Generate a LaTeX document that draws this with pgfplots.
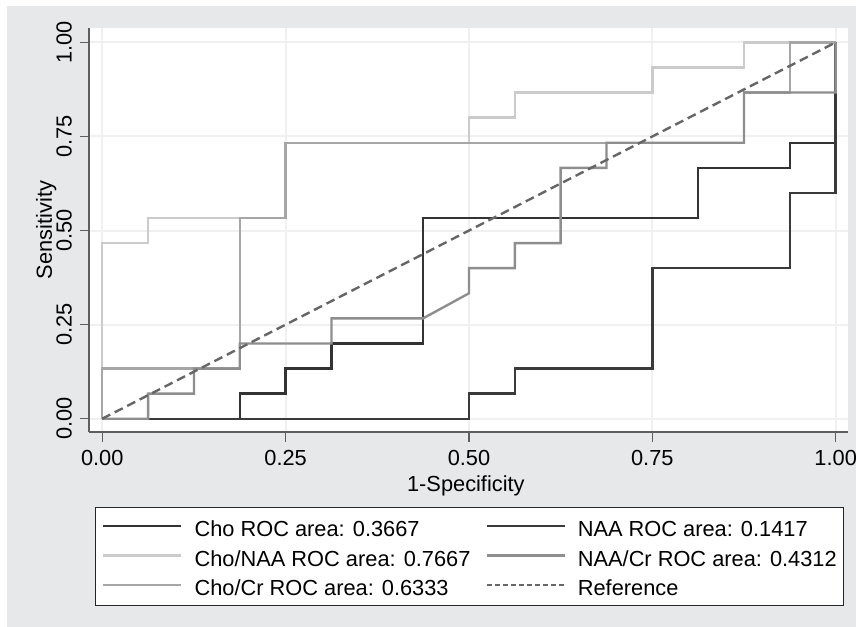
\documentclass[border=0pt]{standalone}
\usepackage{pgfplots}
\pgfplotsset{compat=1.18}
\usepackage{fontspec}
\setmainfont{Liberation Sans}
\definecolor{bggray}{HTML}{E7E8E9}
\definecolor{cCho}{HTML}{333333}
\definecolor{cNAA}{HTML}{3A3A3A}
\definecolor{cChoNAA}{HTML}{CBCBCB}
\definecolor{cNAACr}{HTML}{8E8E8E}
\definecolor{cChoCr}{HTML}{A6A6A6}
\definecolor{cRef}{HTML}{666666}
\definecolor{axgray}{HTML}{5E5E5E}
\definecolor{gridgray}{HTML}{F0F0F0}
\begin{document}
\fontsize{10.9bp}{13bp}\selectfont
\begin{tikzpicture}
\useasboundingbox (0,0) rectangle (428bp,-313.5bp);
\fill[bggray] (3.6bp,-3bp) rectangle (428bp,-313.5bp);
\begin{axis}[
  at={(44.5bp,-216bp)}, anchor=south west,
  scale only axis, width=379.5bp, height=202bp,
  xmin=-0.0181, xmax=1.0168, ymin=-0.0353, ymax=1.0382,
  axis x line*=bottom, axis y line*=left,
  axis line style={axgray, line width=0.6bp, -},
  axis background/.style={fill=white},
  xtick={0,0.25,0.5,0.75,1}, ytick={0,0.25,0.5,0.75,1},
  xticklabels={0.00,0.25,0.50,0.75,1.00},
  yticklabels={0.00,0.25,0.50,0.75,1.00},
  tick align=outside, major tick length=4.75bp,
  tick style={axgray, line width=0.6bp},
  grid=major, major grid style={gridgray, line width=1bp},
  ticklabel style={font=\fontsize{10.9bp}{13bp}\selectfont, inner sep=0pt},
  xticklabel style={anchor=base},
  yticklabel style={rotate=90, anchor=base},
  xticklabel shift=12bp,
  yticklabel shift=4bp,
  xlabel={1-Specificity}, ylabel={Sensitivity},
  label style={font=\fontsize{10.9bp}{13bp}\selectfont, inner sep=0pt},
  xlabel style={at={(axis description cs:0.4965,-0.1473)}, anchor=base},
  ylabel style={at={(axis description cs:-0.04875,0.5)}, anchor=base},
  legend columns=2,
  legend cell align=left,
  legend image code/.code={\draw[#1] (0bp,0.5bp) -- (39bp,0.5bp);},
  legend style={
    at={(0.0075,-0.1856)}, anchor=north west,
    draw=black!85, line width=0.5bp, fill=white,
    font=\fontsize{10.9bp}{13bp}\selectfont,
    inner xsep=3.5bp, inner ysep=2.35bp,
    row sep=0bp,
    nodes={inner xsep=0pt, inner ysep=0pt, text height=12.3bp, text depth=2.5bp},
    /tikz/every odd column/.append style={column sep=6bp},
    /tikz/every even column/.append style={column sep=7.5bp},
  },
  every axis plot/.append style={line width=1.2bp, line join=miter},
]
% draw order: dark curves first, then light, then medium, then reference
\addplot[cCho, forget plot] coordinates {
 (0,0) (0.1875,0) (0.1875,0.0667) (0.25,0.0667) (0.25,0.1333) (0.3125,0.1333)
 (0.3125,0.2) (0.4375,0.2) (0.4375,0.5333) (0.8125,0.5333) (0.8125,0.6667)
 (0.9375,0.6667) (0.9375,0.7333) (1,0.7333) (1,1)};
\addplot[cNAA, forget plot] coordinates {
 (0,0) (0.5,0) (0.5,0.0667) (0.5625,0.0667) (0.5625,0.1333) (0.75,0.1333)
 (0.75,0.4) (0.9375,0.4) (0.9375,0.6) (1,0.6) (1,1)};
\addplot[cChoNAA, forget plot] coordinates {
 (0,0) (0,0.4667) (0.0625,0.4667) (0.0625,0.5333) (0.25,0.5333) (0.25,0.7333)
 (0.5,0.7333) (0.5,0.8) (0.5625,0.8) (0.5625,0.8667) (0.75,0.8667) (0.75,0.9333)
 (0.875,0.9333) (0.875,1) (1,1)};
\addplot[cChoCr, forget plot] coordinates {
 (0,0) (0,0.1333) (0.1875,0.1333) (0.1875,0.5333) (0.25,0.5333) (0.25,0.7333)
 (0.875,0.7333) (0.875,0.8667) (0.9375,0.8667) (0.9375,1) (1,1)};
\addplot[cNAACr, forget plot] coordinates {
 (0,0) (0.0625,0) (0.0625,0.0667) (0.125,0.0667) (0.125,0.1333) (0.1875,0.1333)
 (0.1875,0.2) (0.3125,0.2) (0.3125,0.2667) (0.4375,0.2667) (0.5,0.3333) (0.5,0.4)
 (0.5625,0.4) (0.5625,0.4667) (0.625,0.4667) (0.625,0.6667) (0.6875,0.6667)
 (0.6875,0.7333) (0.875,0.7333) (0.875,0.8667) (1,0.8667) (1,1)};
\addplot[cRef, dash pattern=on 4.5bp off 2.5bp, forget plot] coordinates {(0,0) (1,1)};
% legend, in the reference's order
\addlegendimage{cCho, line width=1.2bp}
\addlegendentry{Cho ROC area: 0.3667}
\addlegendimage{cNAA, line width=1.2bp}
\addlegendentry{NAA ROC area: 0.1417}
\addlegendimage{cChoNAA, line width=1.2bp}
\addlegendentry{Cho/NAA ROC area: 0.7667}
\addlegendimage{cNAACr, line width=1.2bp}
\addlegendentry{NAA/Cr ROC area: 0.4312}
\addlegendimage{cChoCr, line width=1.2bp}
\addlegendentry{Cho/Cr ROC area: 0.6333}
\addlegendimage{cRef, line width=1bp, dash pattern=on 2.5bp off 1.5bp}
\addlegendentry{Reference}
\end{axis}
\end{tikzpicture}
\end{document}
